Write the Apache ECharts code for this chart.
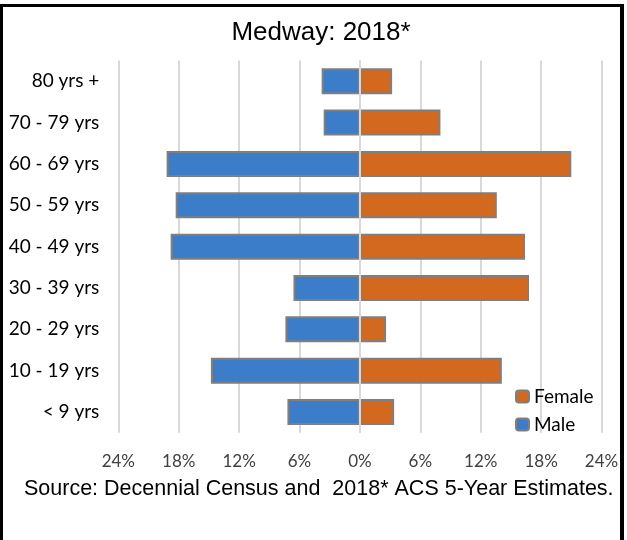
<!DOCTYPE html>
<html>
<head>
<meta charset="utf-8">
<script src="https://cdn.jsdelivr.net/npm/echarts@6/dist/echarts.min.js"></script>
<style>
html,body{margin:0;padding:0;background:#fff;}
#chart{width:627px;height:540px;}
</style>
</head>
<body>
<div id="chart"></div>
<script>
var categories = ['80 yrs +','70 - 79 yrs','60 - 69 yrs','50 - 59 yrs','40 - 49 yrs','30 - 39 yrs','20 - 29 yrs','10 - 19 yrs','< 9 yrs'];
var maleValues = [3.8, 3.6, 19.2, 18.3, 18.8, 6.6, 7.4, 14.8, 7.2];
var femaleValues = [3.2, 8.0, 21.0, 13.6, 16.4, 16.8, 2.6, 14.1, 3.4];
var xTicks = [-24, -18, -12, -6, 0, 6, 12, 18, 24];
var titleText = 'Medway: 2018*';
var sourceText = 'Source: Decennial Census and  2018* ACS 5-Year Estimates.';

var chart = echarts.init(document.getElementById('chart'), null, {renderer:'canvas'});
var option = {
  animation: false,
  backgroundColor: '#ffffff',
  grid: {left: 118.3, right: 25.5, top: 60.6, bottom: 107.3, containLabel: false},
  xAxis: {
    type: 'value',
    min: xTicks[0], max: xTicks[xTicks.length-1], interval: 6,
    axisLine: {show: false},
    axisTick: {show: false},
    splitLine: {show: true, lineStyle: {color: '#d9d9d9', width: 2}},
    axisLabel: {
      margin: 20,
      fontFamily: 'Lato', fontSize: 17, color: '#404040',
      formatter: function(v){ return Math.abs(v) + '%'; }
    }
  },
  yAxis: {
    type: 'category',
    inverse: true,
    data: categories,
    axisLine: {show: false},
    axisTick: {show: false},
    splitLine: {show: false},
    axisLabel: {margin: 19, fontFamily: 'Lato', fontSize: 19, color: '#000000'}
  },
  legend: {
    orient: 'vertical',
    left: 510, top: 382,
    itemWidth: 13, itemHeight: 12, itemGap: 9,
    data: ['Female','Male'],
    itemStyle: {borderColor: '#7f7f7f', borderWidth: 2},
    textStyle: {fontFamily: 'Lato', fontSize: 19, color: '#000000'}
  },
  series: [
    {
      name: 'Male', type: 'bar', stack: 'pop',
      barWidth: 26,
      data: maleValues.map(function(v){ return -v; }),
      itemStyle: {color: '#3b7dc8', borderColor: '#7f7f7f', borderWidth: 2}
    },
    {
      name: 'Female', type: 'bar', stack: 'pop',
      barWidth: 26,
      data: femaleValues,
      itemStyle: {color: '#d2691f', borderColor: '#7f7f7f', borderWidth: 2},
      markLine: {
        silent: true, symbol: ['none','none'], label: {show: false},
        lineStyle: {color: '#d9d9d9', width: 2, type: 'solid'},
        data: [{xAxis: 0}]
      }
    }
  ],
  graphic: [
    {type: 'text', x: 321, y: 33, style: {text: titleText, font: '26px "Liberation Sans"', fill: '#000', textAlign: 'center', textVerticalAlign: 'middle'}},
    {type: 'text', x: 24, y: 489, style: {text: sourceText, font: '21.5px "Liberation Sans"', fill: '#000', textAlign: 'left', textVerticalAlign: 'middle'}},
    {type: 'rect', shape: {x: 0, y: 4, width: 624, height: 3}, style: {fill: '#000'}},
    {type: 'rect', shape: {x: 0, y: 4, width: 3, height: 536}, style: {fill: '#000'}},
    {type: 'rect', shape: {x: 620, y: 4, width: 4, height: 536}, style: {fill: '#000'}}
  ]
};
chart.setOption(option);
</script>
</body>
</html>
